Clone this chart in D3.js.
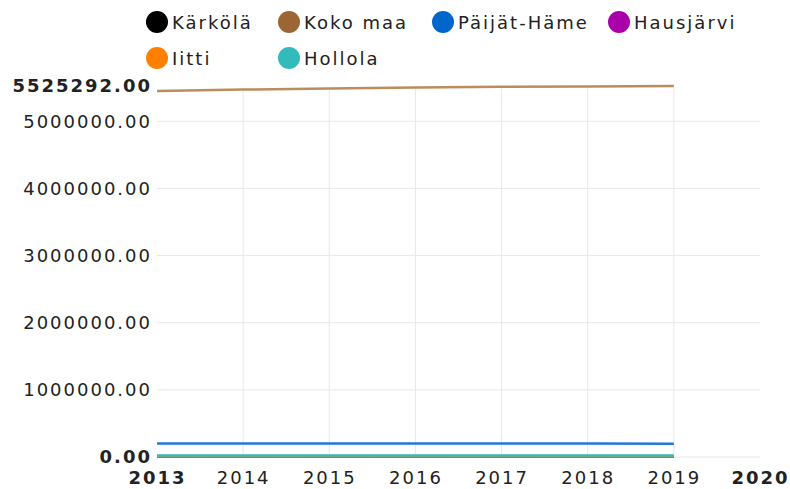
<!DOCTYPE html>
<html>
<head>
<meta charset="utf-8">
<script src="https://cdn.jsdelivr.net/npm/d3@7"></script>
<style>
  body { margin: 0; background: #fff; }
  svg text { font-family: "DejaVu Sans", sans-serif; letter-spacing: 2px; }
</style>
</head>
<body>
<svg id="chart" width="790" height="489"></svg>
<script>
// data
var years = [2013, 2014, 2015, 2016, 2017, 2018, 2019];
var seriesNames = ['Kärkölä', 'Koko maa', 'Päijät-Häme', 'Hausjärvi', 'Iitti', 'Hollola'];
var seriesColors = ['#000000', '#9b6633', '#0066cc', '#aa00aa', '#ff8000', '#33bbbb'];
var lineColors = ['#555555', '#bb8d5c', '#2277dd', '#aa00aa', '#ff8000', '#33bbbb'];

var karkola = [4720, 4680, 4630, 4560, 4500, 4440, 4390];
var kokoMaa = [5451270, 5471753, 5487308, 5503297, 5513130, 5517919, 5525292];
var paijatHame = [202000, 201700, 201300, 200800, 200200, 199600, 199000];
var hausjarvi = [8750, 8700, 8640, 8580, 8500, 8430, 8360];
var iitti = [6950, 6900, 6850, 6800, 6720, 6650, 6580];
var hollola = [23900, 23800, 23700, 23600, 23450, 23300, 23200];

var allSeries = [karkola, kokoMaa, paijatHame, hausjarvi, iitti, hollola];

var yTicks = [0, 1000000, 2000000, 3000000, 4000000, 5000000];
var yMax = 5525292;
var xTicks = [2013, 2014, 2015, 2016, 2017, 2018, 2019, 2020];

var margin = {top: 86, right: 30, bottom: 32, left: 157};
var width = 790 - margin.left - margin.right;
var height = 489 - margin.top - margin.bottom;

var svg = d3.select('#chart');
var g = svg.append('g')
  .attr('transform', 'translate(' + margin.left + ',' + margin.top + ')');

var xScale = d3.scaleLinear()
  .domain([2013, 2020])
  .range([0, width]);

var yScale = d3.scaleLinear()
  .domain([0, yMax])
  .range([height, 0]);

// grid lines
g.selectAll('.hgrid')
  .data(yTicks)
  .enter()
  .append('line')
    .attr('x1', 0)
    .attr('x2', width)
    .attr('y1', d => yScale(d))
    .attr('y2', d => yScale(d))
    .style('stroke', '#e8e8e8')
    .style('stroke-width', 1);

// no vertical line at 2020 in the original
g.selectAll('.vgrid')
  .data(xTicks.slice(1, -1))
  .enter()
  .append('line')
    .attr('x1', d => xScale(d))
    .attr('x2', d => xScale(d))
    .attr('y1', 2)
    .attr('y2', height)
    .style('stroke', '#e8e8e8')
    .style('stroke-width', 1);

// y axis
var yAxis = d3.axisLeft(yScale)
  .tickValues(yTicks.concat([yMax]))
  .tickSize(0)
  .tickPadding(5)
  .tickFormat(d3.format('.2f'));

var yG = g.append('g').call(yAxis);
yG.select('.domain').remove();
yG.selectAll('text')
  .style('font-size', '18px')
  .style('fill', '#222')
  .style('font-weight', d => (d === 0 || d === yMax) ? 'bold' : 'normal');

// x axis
var xAxis = d3.axisBottom(xScale)
  .tickValues(xTicks)
  .tickSize(0)
  .tickPadding(14)
  .tickFormat(d3.format('d'));

var xG = g.append('g')
  .attr('transform', 'translate(0,' + height + ')')
  .call(xAxis);
xG.select('.domain').remove();
xG.selectAll('text')
  .style('font-size', '18px')
  .style('fill', '#222')
  .style('font-weight', d => (d === 2013 || d === 2020) ? 'bold' : 'normal');

// lines
var line = d3.line()
  .x((d, i) => xScale(years[i]))
  .y(d => yScale(d));

g.selectAll('.series')
  .data(allSeries)
  .enter()
  .append('path')
    .attr('d', d => line(d))
    .style('fill', 'none')
    .style('stroke', (d, i) => lineColors[i])
    .style('stroke-width', 2.5);

// legend
var legendCols = [157, 289, 443, 619];
var legendRows = [22, 58];
var legend = svg.append('g');
var items = legend.selectAll('g')
  .data(seriesNames)
  .enter()
  .append('g')
    .attr('transform', (d, i) => 'translate(' + legendCols[i % 4] + ',' + legendRows[Math.floor(i / 4)] + ')');

items.append('circle')
  .attr('r', 11)
  .style('fill', (d, i) => seriesColors[i]);

items.append('text')
  .attr('x', 15)
  .attr('y', 7)
  .style('font-size', '18px')
  .style('fill', '#222')
  .text(d => d);
</script>
</body>
</html>
